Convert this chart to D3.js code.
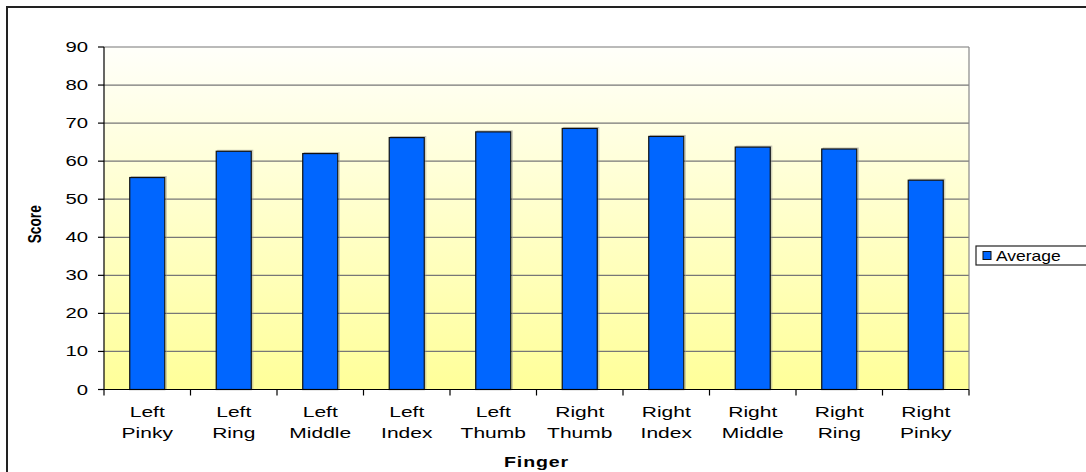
<!DOCTYPE html>
<html><head><meta charset="utf-8">
<script src="https://cdn.jsdelivr.net/npm/d3@7"></script>
<style>body{margin:0;background:#fff}svg{display:block}text{font-family:"Liberation Sans",Arial,sans-serif;fill:#000}</style>
</head><body><svg id="c" width="1086" height="472"></svg>
<script>
const categories = [["Left","Pinky"],["Left","Ring"],["Left","Middle"],["Left","Index"],["Left","Thumb"],["Right","Thumb"],["Right","Index"],["Right","Middle"],["Right","Ring"],["Right","Pinky"]];
const averageValues = [55.7, 62.6, 62.0, 66.2, 67.7, 68.6, 66.5, 63.7, 63.2, 55.0];
const yTicks = [0,10,20,30,40,50,60,70,80,90];
const seriesName = "Average";

const svg = d3.select("#c");
const SX = 1.4;
const m = {l:104, r:969, t:47, b:389.5};
const x = d3.scaleBand().domain(d3.range(categories.length)).range([m.l, m.r]).padding(0);
const y = d3.scaleLinear().domain([0,90]).range([m.b, m.t]);

const defs = svg.append("defs");
const g = defs.append("linearGradient").attr("id","bg").attr("x1",0).attr("y1",0).attr("x2",0).attr("y2",1);
g.append("stop").attr("offset","0%").attr("stop-color","#fffffa");
g.append("stop").attr("offset","100%").attr("stop-color","#ffff99");

// outer frame
svg.append("rect").attr("x",7).attr("y",7).attr("width",1100).attr("height",500).attr("fill","none").attr("stroke","#222").attr("stroke-width",2);

// plot background
svg.append("rect").attr("x",m.l).attr("y",m.t).attr("width",m.r-m.l).attr("height",m.b-m.t).attr("fill","url(#bg)");

// gridlines
svg.append("g").selectAll("line").data(yTicks.filter(d=>d>0)).join("line")
  .attr("x1",m.l).attr("x2",m.r).attr("y1",d=>y(d)).attr("y2",d=>y(d))
  .attr("stroke","#777").attr("stroke-width",1.2);
// right border
svg.append("line").attr("x1",m.r).attr("x2",m.r).attr("y1",m.t).attr("y2",m.b).attr("stroke","#888").attr("stroke-width",1.2);

// bars
const bw = x.bandwidth()*0.405;
const bars = svg.append("g");
bars.selectAll("rect.sh").data(averageValues).join("rect").attr("class","sh")
  .attr("x",(d,i)=>x(i)+x.bandwidth()/2-bw/2+1.5).attr("y",d=>y(d)-1).attr("width",bw).attr("height",d=>m.b-y(d)+1)
  .attr("fill","none").attr("stroke","#999").attr("stroke-opacity",0.6).attr("stroke-width",1);
bars.selectAll("rect.b").data(averageValues).join("rect").attr("class","b")
  .attr("x",(d,i)=>x(i)+x.bandwidth()/2-bw/2).attr("y",d=>y(d)).attr("width",bw).attr("height",d=>m.b-y(d))
  .attr("fill","#0066ff").attr("stroke","#111").attr("stroke-width",1.2);

// y axis
const ya = svg.append("g");
ya.append("line").attr("x1",m.l).attr("x2",m.l).attr("y1",m.t).attr("y2",m.b).attr("stroke","#000").attr("stroke-width",1.2);
ya.selectAll("line.t").data(yTicks).join("line").attr("class","t")
  .attr("x1",m.l-6).attr("x2",m.l).attr("y1",d=>y(d)).attr("y2",d=>y(d)).attr("stroke","#000").attr("stroke-width",1.2);
ya.selectAll("text").data(yTicks).join("text")
  .attr("transform",d=>`translate(${m.l-16},${y(d)+5}) scale(${SX},1)`)
  .attr("text-anchor","end").attr("font-size",14.5).text(d=>d);

// x axis
const xa = svg.append("g");
xa.append("line").attr("x1",m.l).attr("x2",m.r).attr("y1",m.b).attr("y2",m.b).attr("stroke","#000").attr("stroke-width",1.2);
xa.selectAll("line.t").data(d3.range(categories.length+1)).join("line").attr("class","t")
  .attr("x1",i=>m.l+i*x.step()).attr("x2",i=>m.l+i*x.step()).attr("y1",m.b).attr("y2",m.b+6).attr("stroke","#000").attr("stroke-width",1.2);
const lbl = xa.selectAll("text").data(categories).join("text")
  .attr("transform",(d,i)=>`translate(${x(i)+x.bandwidth()/2},417) scale(${SX},1)`)
  .attr("text-anchor","middle").attr("font-size",15);
lbl.append("tspan").attr("x",0).attr("y",0).text(d=>d[0]);
lbl.append("tspan").attr("x",0).attr("y",21).text(d=>d[1]);

// axis titles
svg.append("text").attr("transform",`translate(${(m.l+m.r)/2},467) scale(${SX},1)`)
  .attr("text-anchor","middle").attr("font-size",14).attr("font-weight","bold").attr("letter-spacing",0.6).text("Finger");
svg.append("text").attr("transform",`translate(41,${(m.t+m.b)/2 + 6}) rotate(-90)`)
  .attr("text-anchor","middle").attr("font-size",17.5).attr("font-weight","bold").attr("textLength",38).attr("lengthAdjust","spacingAndGlyphs").text("Score");

// legend
const lg = svg.append("g");
lg.append("rect").attr("x",976).attr("y",246).attr("width",130).attr("height",19).attr("fill","#fff").attr("stroke","#222").attr("stroke-width",1.2);
lg.append("rect").attr("x",983).attr("y",251.5).attr("width",8).attr("height",8).attr("fill","#0066ff").attr("stroke","#111").attr("stroke-width",1);
lg.append("text").attr("transform",`translate(996,261) scale(1.25,1)`).attr("font-size",14).text(seriesName);
</script></body></html>
